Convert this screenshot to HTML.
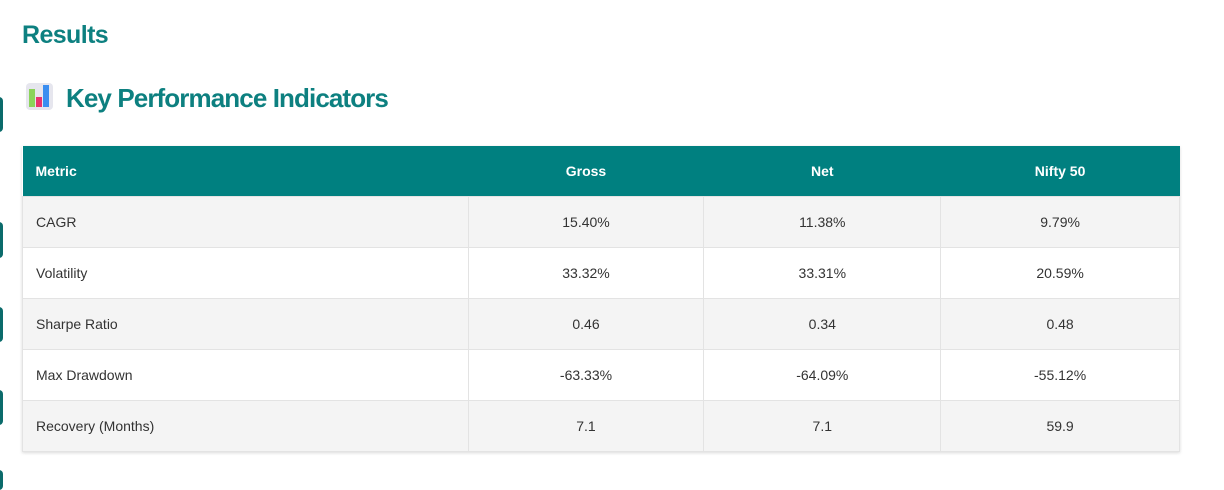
<!DOCTYPE html>
<html><head><meta charset="utf-8"><style>
body{margin:0;width:1224px;height:480px;background:#fff;position:relative;overflow:hidden;font-family:"Liberation Sans",sans-serif;}
.tab{position:absolute;left:-6px;width:9px;border-radius:4px;background:#0b6b6b;}
h1{position:absolute;left:22px;top:21px;margin:0;font-size:25px;font-weight:bold;color:#0d8080;letter-spacing:-0.6px;}
h2{position:absolute;left:66px;top:83px;margin:0;font-size:26px;font-weight:bold;color:#0d8080;letter-spacing:-0.9px;}
.icon{position:absolute;left:26px;top:83px;width:27px;height:27px;border-radius:4px;background:#e6e6ee;}
.icon i{position:absolute;bottom:3px;width:6px;}
table{position:absolute;left:22px;top:146px;width:1158px;border-collapse:collapse;font-size:14px;color:#333;box-shadow:0 1px 3px rgba(0,0,0,.15);}
th{background:#008080;color:#fff;height:50px;font-weight:bold;text-align:center;padding:0;}
td{height:50px;text-align:center;border:1px solid #e3e3e3;padding:0;}
th:first-child,td:first-child{text-align:left;padding-left:13px;}
tr:nth-child(even) td{background:#f4f4f4;}
</style></head><body>
<div class="tab" style="top:97px;height:35px"></div>
<div class="tab" style="top:222px;height:36px"></div>
<div class="tab" style="top:307px;height:35px"></div>
<div class="tab" style="top:390px;height:35px"></div>
<div class="tab" style="top:470px;height:20px"></div>
<h1>Results</h1>
<div class="icon"><i style="left:3px;height:18px;background:#8bd35a"></i><i style="left:10px;height:10px;background:#e8336e"></i><i style="left:17px;height:22px;background:#3a8ef0"></i></div>
<h2>Key Performance Indicators</h2>
<table>
<colgroup><col style="width:446px"><col style="width:236px"><col style="width:237px"><col style="width:239px"></colgroup>
<tr><th>Metric</th><th>Gross</th><th>Net</th><th>Nifty 50</th></tr>
<tr><td>CAGR</td><td>15.40%</td><td>11.38%</td><td>9.79%</td></tr>
<tr><td>Volatility</td><td>33.32%</td><td>33.31%</td><td>20.59%</td></tr>
<tr><td>Sharpe Ratio</td><td>0.46</td><td>0.34</td><td>0.48</td></tr>
<tr><td>Max Drawdown</td><td>-63.33%</td><td>-64.09%</td><td>-55.12%</td></tr>
<tr><td>Recovery (Months)</td><td>7.1</td><td>7.1</td><td>59.9</td></tr>
</table>
</body></html>
